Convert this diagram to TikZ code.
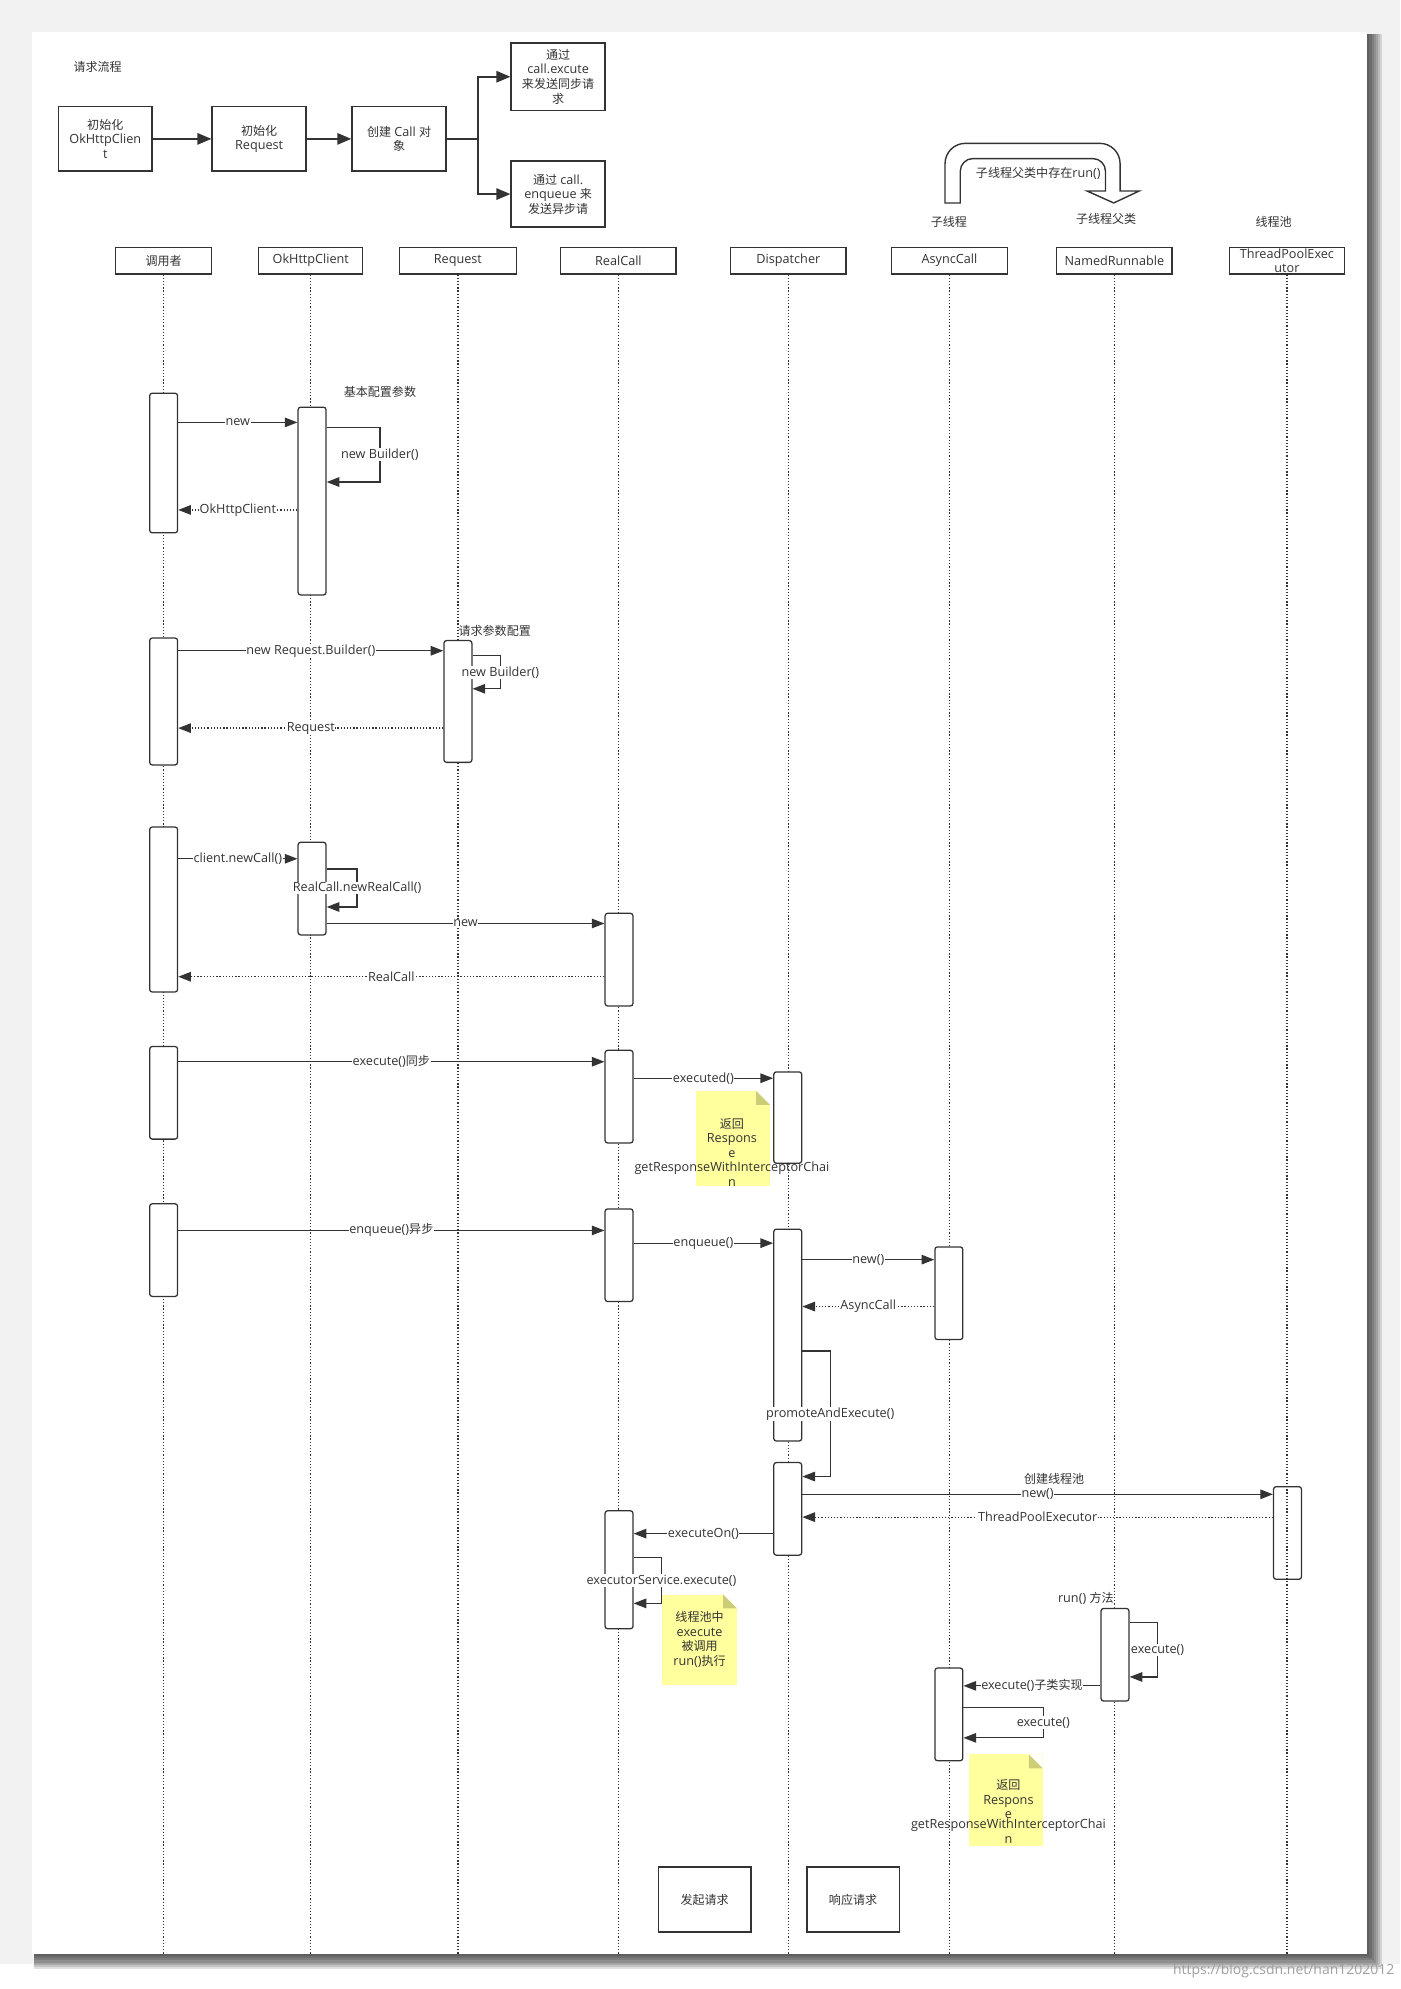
\documentclass[tikz,border=0pt]{standalone}
\usepackage{fontspec}
\setmainfont[Scale=1.05]{Open Sans}
\newfontfamily\zh{Noto Sans CJK SC}
\usetikzlibrary{arrows.meta,positioning}
\definecolor{inkgray}{HTML}{333333}
\definecolor{noteyellow}{HTML}{FFFF9E}
\definecolor{notefold}{HTML}{CDCD78}
\definecolor{pagegray}{HTML}{F2F2F2}
\tikzset{
  flowbox/.style={
    draw=inkgray,
    line width=1.3pt,
    fill=white,
    align=center,
    minimum width=74pt,
    minimum height=51pt,
    inner sep=2pt
  },
  headbox/.style={
    draw=inkgray,
    line width=1pt,
    fill=white,
    align=center,
    minimum width=91pt,
    minimum height=21pt,
    inner sep=0pt
  },
  actbox/.style={
    draw=inkgray,
    line width=1pt,
    fill=white,
    rounded corners=2pt,
    minimum width=22pt,
    inner sep=0pt
  },
  lifeline/.style={
    draw=inkgray,
    line width=1.1pt,
    dash pattern=on 1pt off 1.5pt
  },
  flowarrow/.style={
    -{Triangle[length=11pt,width=9pt]},
    line width=1.3pt,
    draw=inkgray
  },
  callarrow/.style={
    -{Triangle[length=10pt,width=7.5pt]},
    line width=1pt,
    draw=inkgray
  },
  backarrow/.style={
    callarrow,
    dash pattern=on 1pt off 1.5pt
  },
  msglabel/.style={
    fill=white,
    inner sep=0.5pt
  },
  notebox/.style={
    fill=noteyellow,
    inner sep=0pt,
    path picture={
      \fill[white] (path picture bounding box.north east) -- ++(-11,0) -- ++(11,11) -- cycle;
      \fill[notefold] (path picture bounding box.north east) ++(-11,0) -- ++(11,11) -- ++(-11,0) -- cycle;
    }
  },
  legendbox/.style={
    draw=inkgray,
    line width=1.2pt,
    fill=white,
    minimum width=73pt,
    minimum height=51pt
  }
}

\begin{document}
\begin{tikzpicture}[x=1pt, y=-1pt, font=\fontsize{9.5}{11.5}\selectfont, text=inkgray]
    \useasboundingbox (0,0) rectangle (1104,1568);
    \fill[pagegray] (0,0) rectangle (1104,1568);
    \fill[white] (0,1548) rectangle (1104,1568);
    \foreach \s in {2,4,...,14} {
        \fill[black, opacity=0.12] (27,27) rectangle (1078+\s*0.8,1540+\s*0.9);
    }
    \fill[white] (25,25) rectangle (1078,1540);

    \node (title) at (77,53) {\zh 请求流程};
    \node[flowbox] (initClient) at (83,109.5) {{\zh 初始化}\\OkHttpClien\\t};
    \node[flowbox, right=46pt of initClient] (initRequest) {{\zh 初始化}\\Request};
    \node[flowbox, right=35pt of initRequest] (makeCall) {{\zh 创建} Call {\zh 对}\\{\zh 象}};
    \node[flowbox, minimum height=53pt] (syncBox) at (440,60.5) {{\zh 通过}\\call.excute\\{\zh 来发送同步请}\\{\zh 求}};
    \node[flowbox, minimum height=52pt] (asyncBox) at (440,153) {{\zh 通过} call.\\enqueue {\zh 来}\\{\zh 发送异步请}};
    \coordinate (fork) at (377,109.5);

    \draw[flowarrow] (initClient) -- (initRequest);
    \draw[flowarrow] (initRequest) -- (makeCall);
    \draw[flowarrow] (makeCall.east) -- (fork) |- (syncBox.west);
    \draw[flowarrow] (fork) |- (asyncBox.west);

    \node (subThread) at (748,175) {\zh 子线程};
    \node (subParent) at (872,172.5) {\zh 子线程父类};
    \node (poolTitle) at (1004,175) {\zh 线程池};
    \draw[draw=inkgray, line width=1.1pt, fill=white] (745,160) -- (745,129) arc[start angle=180, end angle=270, radius=16]
        -- (867,113) arc[start angle=270, end angle=360, radius=16] -- (883,150.6) -- (898,150.6) -- (878,160)
        -- (857,150.6) -- (871.5,150.6) -- (871.5,135) arc[start angle=0, end angle=-90, radius=10]
        -- (767,125) arc[start angle=-90, end angle=-180, radius=10] -- (757,160) -- cycle;
    \node (runNote) at (818.5,136.6) {{\zh 子线程父类中存在}run()};

    \node[headbox, minimum width=76pt] (hCaller) at (129,205.5) {\zh 调用者};
    \node[headbox, minimum width=82pt] (hClient) at (245,205.5) {OkHttpClient};
    \node[headbox, minimum width=92pt] (hRequest) at (361,205.5) {Request};
    \node[headbox] (hRealCall) at (487.5,205.5) {RealCall};
    \node[headbox] (hDispatcher) at (621.5,205.5) {Dispatcher};
    \node[headbox] (hAsync) at (748.5,205.5) {AsyncCall};
    \node[headbox] (hNamed) at (878.5,205.5) {NamedRunnable};
    \node[headbox, font=\fontsize{9.5}{10.5}\selectfont] (hPool) at (1014.5,205.5) {ThreadPoolExec\\utor};

    \coordinate (lineEnd) at (0,1540);
    \foreach \h in {hCaller,hClient,hRequest,hRealCall,hDispatcher,hAsync,hNamed,hPool} {
        \draw[lifeline] (\h.south) -- (\h.south |- lineEnd);
    }

    \node[actbox, minimum height=110pt] (c1) at (129,365) {};
    \node[actbox, minimum height=100pt] (c2) at (129,553) {};
    \node[actbox, minimum height=130pt] (c3) at (129,717) {};
    \node[actbox, minimum height=73pt] (c4) at (129,861.5) {};
    \node[actbox, minimum height=73pt] (c5) at (129,985.5) {};
    \node[actbox, minimum height=148pt] (k1) at (246,395) {};
    \node[actbox, minimum height=73pt] (k2) at (246,700.5) {};
    \node[actbox, minimum height=96pt] (r1) at (361,553) {};
    \node[actbox, minimum height=73pt] (rc1) at (488,756.5) {};
    \node[actbox, minimum height=73pt] (rc2) at (488,864.5) {};
    \node[actbox, minimum height=73pt] (rc3) at (488,989.5) {};
    \node[actbox, minimum height=93pt] (rc4) at (488,1237.5) {};
    \node[actbox, minimum height=72pt] (d1) at (621,881) {};
    \node[actbox, minimum height=167pt] (d2) at (621,1052.5) {};
    \node[actbox, minimum height=73pt] (d3) at (621,1189.5) {};
    \node[actbox, minimum height=73pt] (a1) at (748,1019.5) {};
    \node[actbox, minimum height=73pt] (a2) at (748,1351.5) {};
    \node[actbox, minimum height=73pt] (nr1) at (879,1304.5) {};
    \node[actbox, minimum height=73pt, fill=none] (tp1) at (1015,1208.5) {};

    \node (basicConf) at (299.5,309) {\zh 基本配置参数};
    \node (reqConf) at (390,497) {\zh 请求参数配置};
    \node (poolMake) at (831,1166) {\zh 创建线程池};
    \node (runMethod) at (856,1260) {run() {\zh 方法}};

    \draw[callarrow] (c1.east |- 0,333) -- node[msglabel]{new} (k1.west |- 0,333);
    \draw[callarrow] (k1.east |- 0,337) -- ++(42,0) |- node[msglabel, pos=0.25]{new Builder()} (k1.east |- 0,380);
    \draw[backarrow] (k1.west |- 0,402) -- node[msglabel]{OkHttpClient} (c1.east |- 0,402);
    \draw[callarrow] (c2.east |- 0,513) -- node[msglabel]{new Request.Builder()} (r1.west |- 0,513);
    \draw[callarrow] (r1.east |- 0,517) -- ++(22,0) |- node[msglabel, pos=0.25]{new Builder()} (r1.east |- 0,543);
    \draw[backarrow] (r1.west |- 0,574) -- node[msglabel]{Request} (c2.east |- 0,574);
    \draw[callarrow] (c3.east |- 0,677) -- node[msglabel]{client.newCall()} (k2.west |- 0,677);
    \draw[callarrow] (k2.east |- 0,685) -- ++(24,0) |- node[msglabel, pos=0.25]{RealCall.newRealCall()} (k2.east |- 0,715);
    \draw[callarrow] (k2.east |- 0,728) -- node[msglabel]{new} (rc1.west |- 0,728);
    \draw[backarrow] (rc1.west |- 0,770) -- node[msglabel]{RealCall} (c3.east |- 0,770);
    \draw[callarrow] (c4.east |- 0,837) -- node[msglabel]{execute(){\zh 同步}} (rc2.west |- 0,837);
    \draw[callarrow] (rc2.east |- 0,850) -- node[msglabel]{executed()} (d1.west |- 0,850);
    \draw[callarrow] (c5.east |- 0,970) -- node[msglabel]{enqueue(){\zh 异步}} (rc3.west |- 0,970);
    \draw[callarrow] (rc3.east |- 0,980) -- node[msglabel]{enqueue()} (d2.west |- 0,980);
    \draw[callarrow] (d2.east |- 0,993) -- node[msglabel]{new()} (a1.west |- 0,993);
    \draw[backarrow] (a1.west |- 0,1030) -- node[msglabel]{AsyncCall} (d2.east |- 0,1030);
    \draw[callarrow] (d2.east |- 0,1065) -- ++(22,0) |- node[msglabel, pos=0.25]{promoteAndExecute()} (d3.east |- 0,1164);
    \draw[callarrow] (d3.east |- 0,1178) -- node[msglabel]{new()} (tp1.west |- 0,1178);
    \draw[backarrow] (tp1.west |- 0,1196) -- node[msglabel]{ThreadPoolExecutor} (d3.east |- 0,1196);
    \draw[callarrow] (d3.west |- 0,1209) -- node[msglabel]{executeOn()} (rc4.east |- 0,1209);
    \draw[callarrow] (rc4.east |- 0,1228) -- ++(22,0) |- node[msglabel, pos=0.25]{executorService.execute()} (rc4.east |- 0,1264);
    \draw[callarrow] (nr1.east |- 0,1279) -- ++(22,0) |- node[msglabel, pos=0.25]{execute()} (nr1.east |- 0,1322);
    \draw[callarrow] (nr1.west |- 0,1329) -- node[msglabel]{execute(){\zh 子类实现}} (a2.east |- 0,1329);
    \draw[callarrow] (a2.east |- 0,1346) -- ++(63,0) |- node[msglabel, pos=0.25]{execute()} (a2.east |- 0,1370);

    \node[notebox, minimum width=58pt, minimum height=75pt] (note1) at (578,897.5) {};
    \node[align=center] (note1txt) at (577,908.5) {{\zh 返回}\\Respons\\e\\getResponseWithInterceptorChai\\n};
    \node[notebox, minimum width=59pt, minimum height=71pt] (note2) at (551.5,1292.5) {};
    \node[align=center] (note2txt) at (551.5,1292.5) {{\zh 线程池中}\\execute\\{\zh 被调用}\\run(){\zh 执行}};
    \node[notebox, minimum width=58pt, minimum height=72pt] (note3) at (793,1419) {};
    \node[align=center] (note3txt) at (795,1428) {{\zh 返回}\\Respons\\e\\[-4pt]getResponseWithInterceptorChai\\n};

    \node[legendbox] (legendCall) at (555.5,1497.5) {\zh 发起请求};
    \node[legendbox] (legendReply) at (672.5,1497.5) {\zh 响应请求};

    \node[text=gray!75, font=\fontsize{10.5}{12}\selectfont] (mark) at (1012,1554) {https://blog.csdn.net/han1202012};
\end{tikzpicture}
\end{document}
